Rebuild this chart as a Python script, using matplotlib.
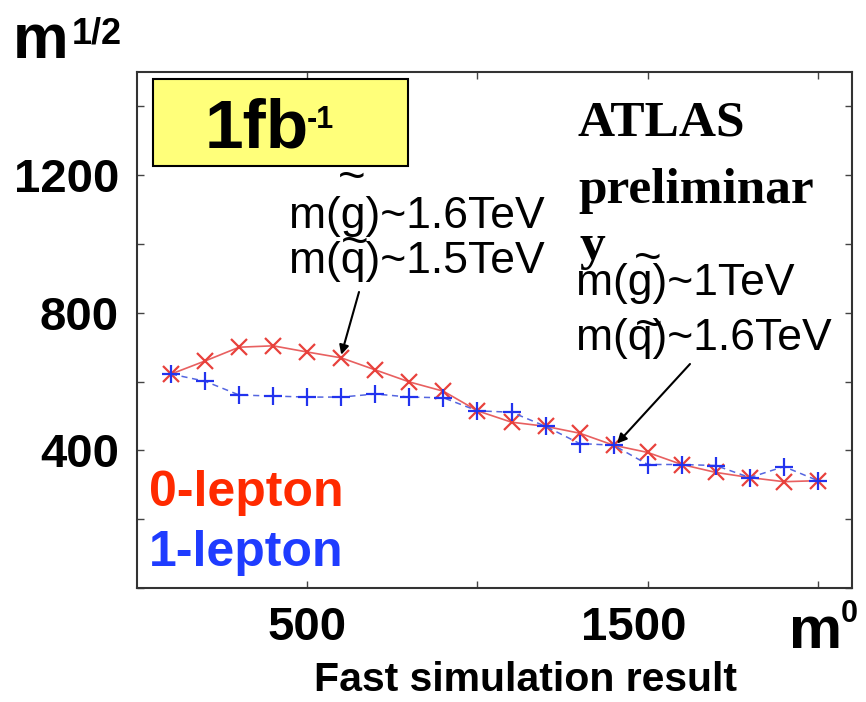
import matplotlib.pyplot as plt
import matplotlib.transforms as mtransforms
from matplotlib.patches import Rectangle

# m0 scan points and m1/2 reach for the two channels
m0 = [100, 200, 300, 400, 500, 600, 700, 800, 900, 1000,
      1100, 1200, 1300, 1400, 1500, 1600, 1700, 1800, 1900, 2000]
reach_0lep = [622, 660, 700, 704, 686, 669, 634, 599, 572, 515,
              482, 470, 450, 415, 394, 359, 336, 321, 309, 312]
reach_1lep = [622, 601, 561, 558, 555, 555, 564, 555, 553, 515,
              511, 470, 420, 415, 359, 359, 356, 321, 353, 312]

xticks = [500, 1000, 1500, 2000]
xlabels = ['500', '', '1500', '']
yticks = [0, 200, 400, 600, 800, 1000, 1200, 1400]
ylabels = ['', '', '400', '', '800', '', '1200', '']

W, H = 866, 702
SANS = 'Liberation Sans'
SERIF = 'Liberation Serif'


def fp(x, y):
    # pixel position (top-left origin) -> figure fraction
    return x / W, 1 - y / H


fig = plt.figure(figsize=(W / 100, H / 100), dpi=100)
ax = fig.add_axes([137 / W, 1 - 588 / H, (852 - 137) / W, (588 - 72) / H])

ax.plot(m0, reach_0lep, '-', color='#e86060', lw=1.2, marker='x', ms=11,
        mew=1.6, mec='#e8413c')
ax.plot(m0, reach_1lep, '--', color='#5566e0', lw=1.1, marker='+', ms=13,
        mew=1.6, mec='#2233ee', dashes=(4, 3))

ax.set_xlim(0, 2100)
ax.set_ylim(0, 1500)
ax.set_xticks(xticks)
ax.set_xticklabels(xlabels)
ax.set_yticks(yticks)
ax.set_yticklabels(ylabels)
ax.tick_params(direction='in', length=5, width=1, top=True, right=True,
               color='#444444')
ax.tick_params(axis='x', pad=13, labelsize=34)
ax.tick_params(axis='y', pad=13, labelsize=34)
for lab in ax.get_xticklabels() + ax.get_yticklabels():
    lab.set_fontweight('bold')
    lab.set_fontfamily(SANS)
lab1500 = ax.get_xticklabels()[2]
lab1500.set_transform(lab1500.get_transform() +
                      mtransforms.ScaledTranslation(-0.14, 0, fig.dpi_scale_trans))
for sp in ax.spines.values():
    sp.set_linewidth(1.5)
    sp.set_color('#333333')

# yellow luminosity box
fig.patches.append(Rectangle(fp(153, 166), (408 - 153) / W, (166 - 79) / H,
                             transform=fig.transFigure, facecolor='#ffff7a',
                             edgecolor='black', lw=1.5, zorder=5))
fig.text(*fp(205, 147), '1fb', fontsize=50, fontweight='bold', family=SANS,
         va='baseline', zorder=6)
fig.text(*fp(307, 128), '-1', fontsize=22, fontweight='bold', family=SANS,
         va='baseline', zorder=6)

# axis titles
fig.text(*fp(13, 58), 'm', fontsize=45, fontweight='bold', family=SANS,
         va='baseline')
fig.text(*fp(72, 43), '1/2', fontsize=26, fontweight='bold', family=SANS,
         va='baseline')
fig.text(*fp(789, 648), 'm', fontsize=43, fontweight='bold', family=SANS,
         va='baseline')
fig.text(*fp(841, 622), '0', fontsize=22, fontweight='bold', family=SANS,
         va='baseline')
fig.text(*fp(525, 691), 'Fast simulation result', fontsize=29.5,
         fontweight='bold', family=SANS, ha='center', va='baseline')

# ATLAS label
fig.text(*fp(578, 136), 'ATLAS', fontsize=37, fontweight='bold',
         family=SERIF, va='baseline')
fig.text(*fp(578, 203), 'preliminar', fontsize=37, fontweight='bold',
         family=SERIF, va='baseline')
fig.text(*fp(580, 259), 'y', fontsize=37, fontweight='bold',
         family=SERIF, va='baseline')

# channel labels
fig.text(*fp(149, 506), '0-lepton', fontsize=36, fontweight='bold',
         family=SANS, color='#ff2a00', va='baseline')
fig.text(*fp(149, 566), '1-lepton', fontsize=36, fontweight='bold',
         family=SANS, color='#1f3cff', va='baseline')

# mass annotations (tilde drawn separately above the particle letter)
fig.text(*fp(289, 228), 'm(g)~1.6TeV', fontsize=32, family=SANS,
         va='baseline')
fig.text(*fp(289, 273), 'm(q)~1.5TeV', fontsize=32, family=SANS,
         va='baseline')
fig.text(*fp(338, 191), '~', fontsize=34, family=SANS, va='baseline')
fig.text(*fp(341, 256), '~', fontsize=34, family=SANS, va='baseline')

fig.text(*fp(576, 295), 'm(g)~1TeV', fontsize=32, family=SANS,
         va='baseline')
fig.text(*fp(576, 350), 'm(q)~1.6TeV', fontsize=32, family=SANS,
         va='baseline')
fig.text(*fp(634, 272), '~', fontsize=34, family=SANS, va='baseline')
fig.text(*fp(635, 339), '~', fontsize=34, family=SANS, va='baseline')

ax.annotate('', xy=(600, 678), xycoords='data',
            xytext=(359, H - 292), textcoords='figure pixels',
            arrowprops=dict(arrowstyle='-|>', color='black', lw=1.5,
                            mutation_scale=14, shrinkA=0, shrinkB=0))
ax.annotate('', xy=(1410, 420), xycoords='data',
            xytext=(690, H - 364), textcoords='figure pixels',
            arrowprops=dict(arrowstyle='-|>', color='black', lw=1.5,
                            mutation_scale=14, shrinkA=0, shrinkB=0))

fig.savefig('out.png', dpi=100)
